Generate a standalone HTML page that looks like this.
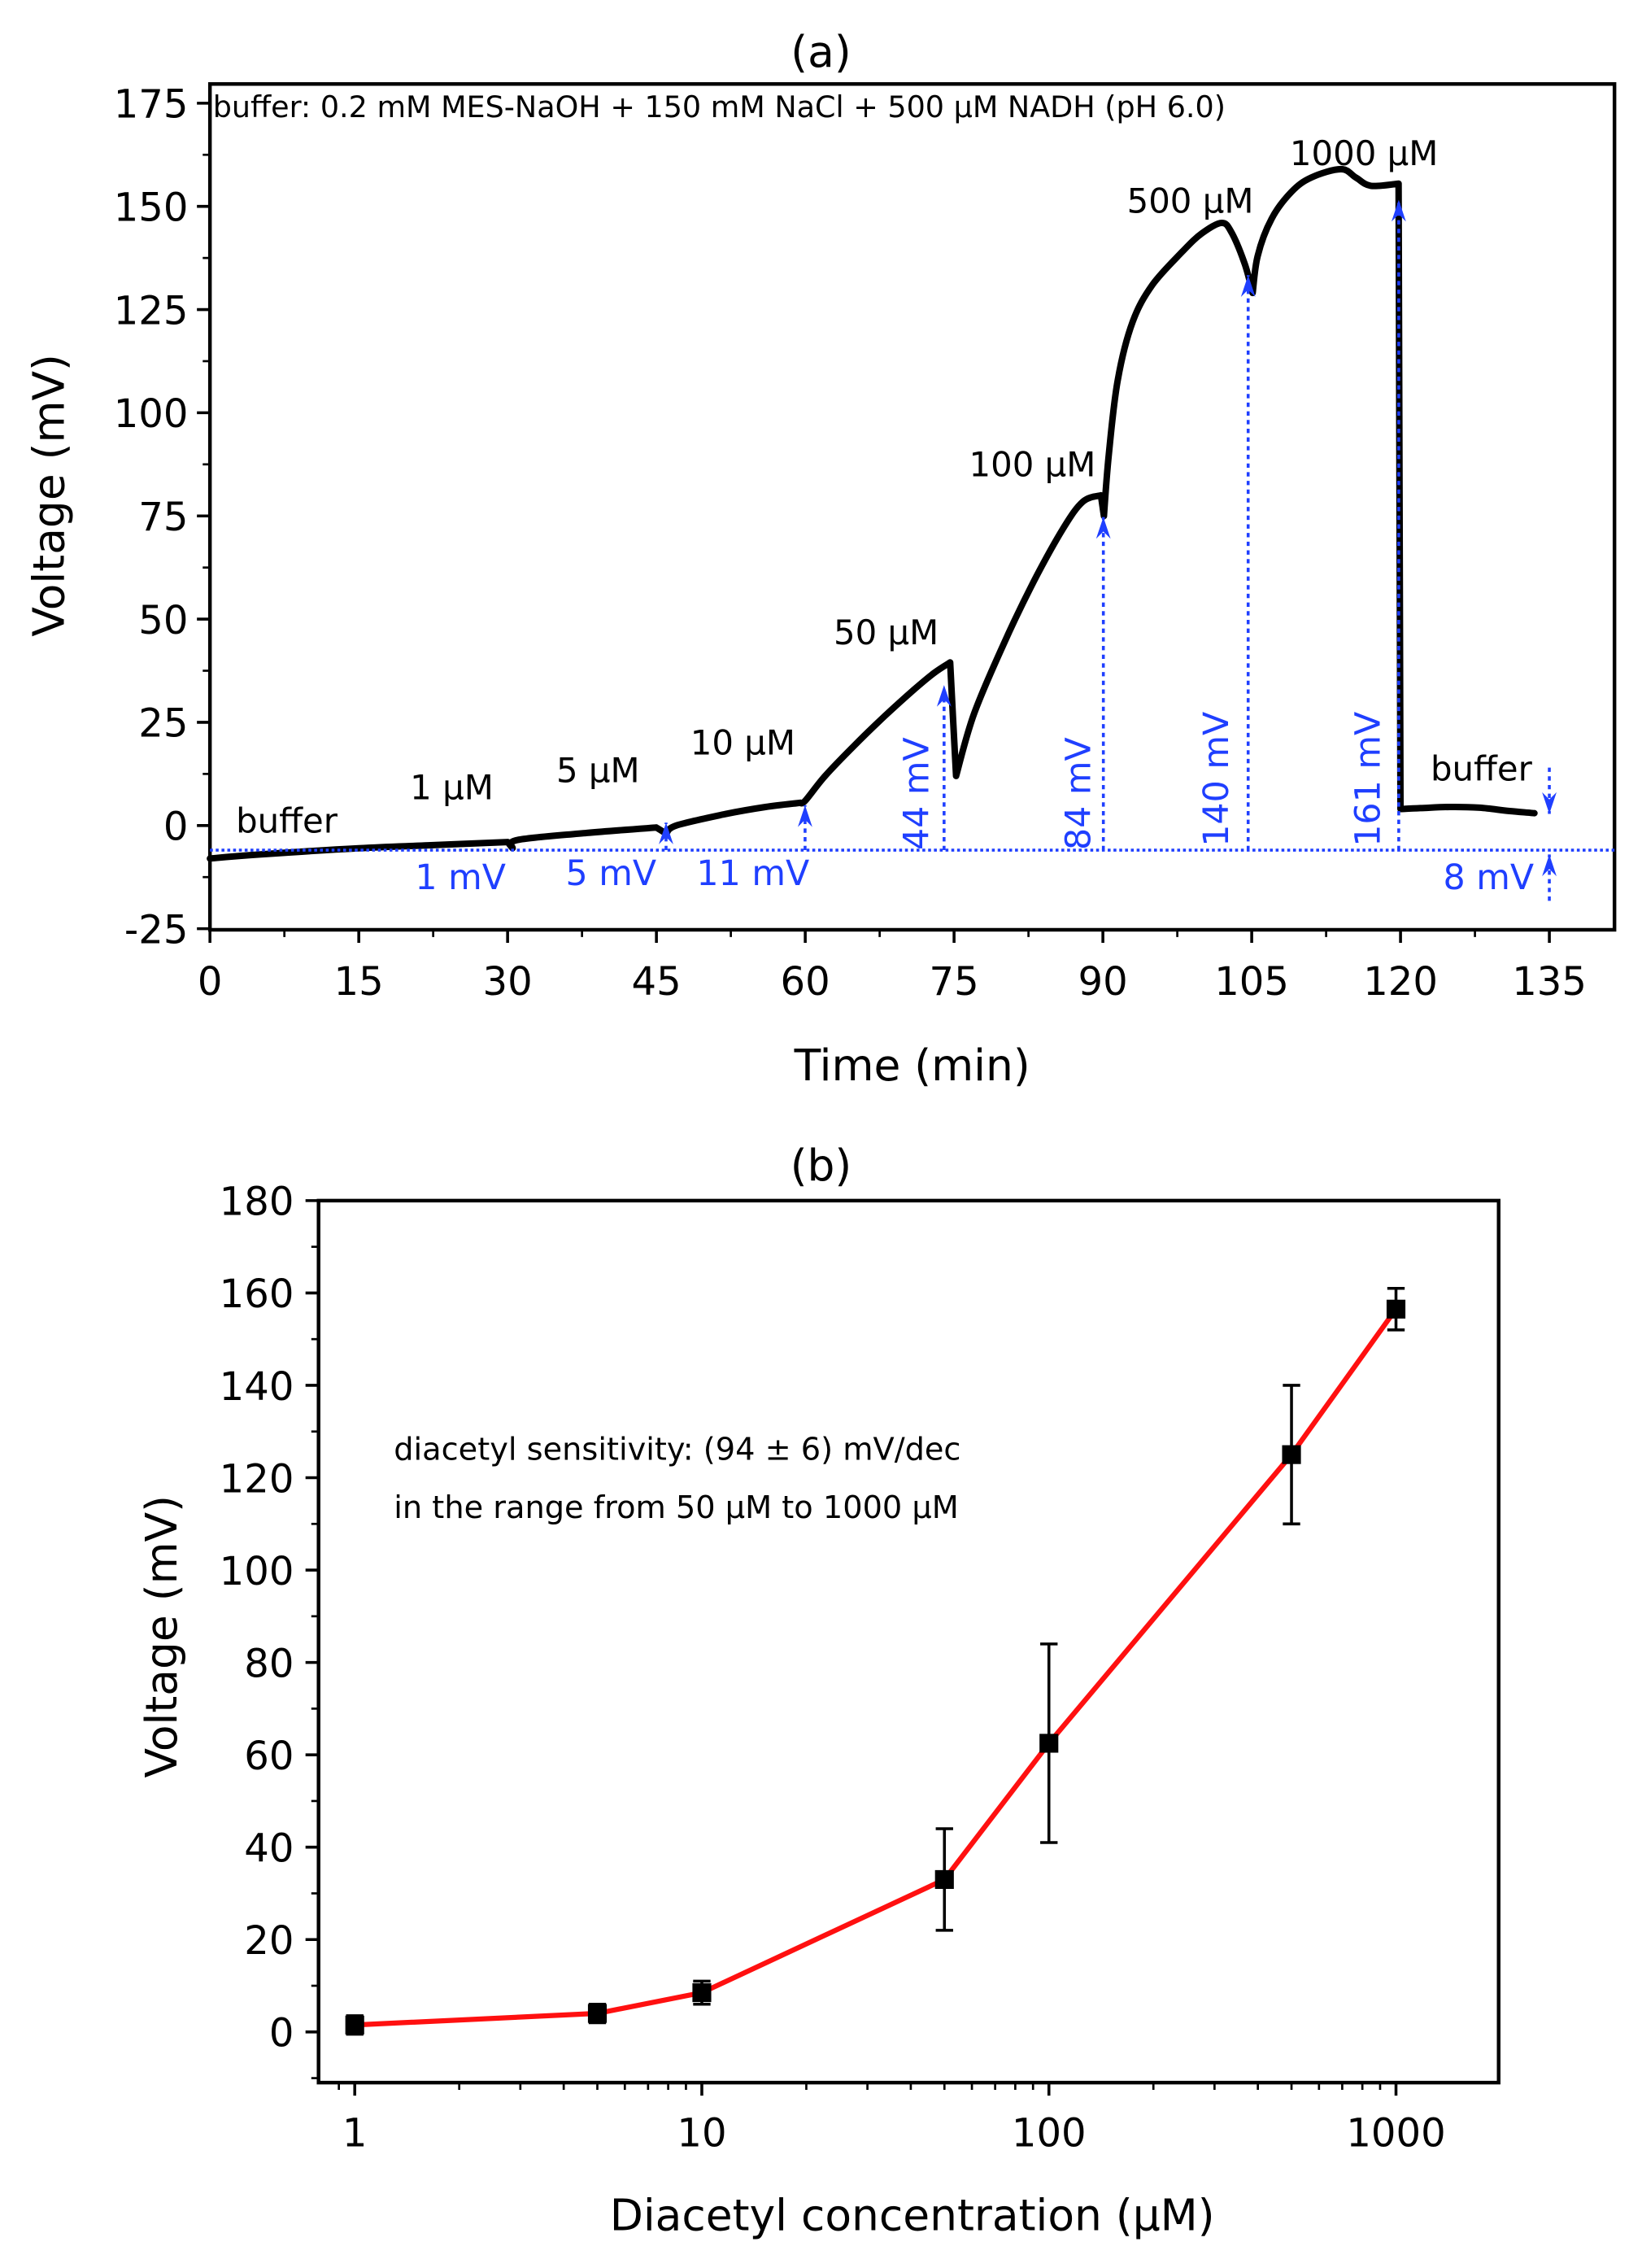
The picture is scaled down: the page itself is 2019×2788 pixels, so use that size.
<!DOCTYPE html>
<html><head><meta charset="utf-8"><style>
html,body{margin:0;padding:0;background:#fff;}
svg{display:block;}
text{font-family:"DejaVu Sans","Liberation Sans",sans-serif;}
</style></head><body>
<svg id="s" xmlns="http://www.w3.org/2000/svg" width="2019" height="2788" viewBox="0 0 1134 1566" preserveAspectRatio="none">
<rect width="1134" height="1566" fill="#fff"/>
<g id="g"></g>
</svg>
<script>
var g=document.getElementById('g');var out='';
function X(t){return 145+6.852*t;}function Y(v){return 570-2.85*v;}
out+='<text x="567" y="46" font-size="30" text-anchor="middle">(a)</text>';
out+='<rect x="145" y="58" width="970" height="584" fill="none" stroke="#000" stroke-width="2.5"/>';
for(var v=-25;v<=175;v+=25){var y=Y(v);out+='<line x1="136" y1="'+y+'" x2="145" y2="'+y+'" stroke="#000" stroke-width="2"/>';out+='<text x="130" y="'+(y+10)+'" font-size="27" text-anchor="end">'+v+'</text>';}
for(var v=-12.5;v<=175;v+=25){var y=Y(v);out+='<line x1="140" y1="'+y+'" x2="145" y2="'+y+'" stroke="#000" stroke-width="1.5"/>';}
for(var t=0;t<=135;t+=15){var x=X(t);out+='<line x1="'+x+'" y1="642" x2="'+x+'" y2="651" stroke="#000" stroke-width="2"/>';out+='<text x="'+x+'" y="687" font-size="27" text-anchor="middle">'+t+'</text>';}
for(var t=7.5;t<=140;t+=15){var x=X(t);out+='<line x1="'+x+'" y1="642" x2="'+x+'" y2="647" stroke="#000" stroke-width="1.5"/>';}
out+='<text x="630" y="746" font-size="30" text-anchor="middle">Time (min)</text>';
out+='<text transform="translate(44,342) rotate(-90)" font-size="30" text-anchor="middle">Voltage (mV)</text>';
out+='<text x="147" y="81" font-size="20.5">buffer: 0.2 mM MES-NaOH + 150 mM NaCl + 500 μM NADH (pH 6.0)</text>';
// smooth segments (catmull-rom), separated by jumps
var segs=[
[[0,-8],[5,-7],[15,-5.5],[22,-4.8],[30,-4]],
[[30,-4],[30.5,-5.5]],
[[30.5,-5.5],[31,-3.5],[38,-1.8],[45,-0.5]],
[[45,-0.5],[46,-2]],
[[46,-2],[47,0],[52,2.8],[56,4.5],[59.5,5.5]],
[[59.5,5.5],[60,6],[62,12],[65,19.5],[68,26.5],[71,33],[73,37],[74.6,39.5]],
[[74.6,39.5],[75.2,12]],
[[75.2,12],[77,27],[80,44],[83,59],[86,72],[88,78.5],[89.8,80]],
[[89.8,80],[90.1,75]],
[[90.1,75],[90.6,90],[91.5,108],[93,122],[95,131],[98,139],[100,143.5],[102,146],[103,143.5],[104.3,136],[105.1,129]],
[[105.1,129],[105.6,138],[107,147],[109,153.5],[111,157],[114,159],[115.5,157],[117,155],[119.8,155.5]],
[[119.8,155.5],[120,4]],
[[120,4],[122,4.2],[125,4.5],[128,4.3],[131,3.5],[133.5,3]]];
function cr(pts){var P=pts.map(function(q){return [X(q[0]),Y(q[1])];});var s='M'+P[0][0].toFixed(1)+','+P[0][1].toFixed(1);for(var i=0;i<P.length-1;i++){var p0=P[i-1]||P[i],p1=P[i],p2=P[i+1],p3=P[i+2]||P[i+1];var c1=[p1[0]+(p2[0]-p0[0])/6,p1[1]+(p2[1]-p0[1])/6],c2=[p2[0]-(p3[0]-p1[0])/6,p2[1]-(p3[1]-p1[1])/6];s+='C'+c1[0].toFixed(1)+','+c1[1].toFixed(1)+' '+c2[0].toFixed(1)+','+c2[1].toFixed(1)+' '+p2[0].toFixed(1)+','+p2[1].toFixed(1);}return s;}
var p='';segs.forEach(function(s){p+=cr(s);});
out+='<path d="'+p+'" fill="none" stroke="#000" stroke-width="4.5" stroke-linejoin="round" stroke-linecap="round"/>';
var b='#1f3fff';
out+='<line x1="145" y1="587" x2="1115" y2="587" stroke="'+b+'" stroke-width="2" stroke-dasharray="2,2"/>';
function arr(x,y1,y2){out+='<line x1="'+x+'" y1="'+y1+'" x2="'+x+'" y2="'+y2+'" stroke="'+b+'" stroke-width="2" stroke-dasharray="3,3"/>';var dir=y2<y1?1:-1;out+='<path d="M'+x+','+y2+' L'+(x-5)+','+(y2+15*dir)+' L'+x+','+(y2+10*dir)+' L'+(x+5)+','+(y2+15*dir)+'Z" fill="'+b+'"/>';}
arr(460,587,568);arr(556,587,556);arr(652,587,473);arr(762,587,357);arr(862,587,190);arr(966,587,138);arr(1070,530,562);arr(1070,622,590);
function bt(x,y,s){out+='<text x="'+x+'" y="'+y+'" font-size="24" fill="'+b+'" text-anchor="middle">'+s+'</text>';}
bt(318,614,'1 mV');bt(422,611,'5 mV');bt(520,611,'11 mV');bt(1028,614,'8 mV');
function bv(x,y,s){out+='<text transform="translate('+x+','+y+') rotate(-90)" font-size="24" fill="'+b+'" text-anchor="middle">'+s+'</text>';}
bv(641,548,'44 mV');bv(753,548,'84 mV');bv(848,538,'140 mV');bv(953,538,'161 mV');
function kt(x,y,s){out+='<text x="'+x+'" y="'+y+'" font-size="23.5" text-anchor="middle">'+s+'</text>';}
kt(198,575,'buffer');kt(312,552,'1 μM');kt(413,540,'5 μM');kt(513,521,'10 μM');kt(612,445,'50 μM');kt(713,329,'100 μM');kt(822,147,'500 μM');kt(942,114,'1000 μM');kt(1023,539,'buffer');
function LX(c){return 245+239.7*Math.log10(c);}function LY(v){return 1403-3.189*v;}
out+='<text x="567" y="815" font-size="30" text-anchor="middle">(b)</text>';
out+='<rect x="220" y="829" width="815" height="609" fill="none" stroke="#000" stroke-width="2.5"/>';
for(var v=0;v<=180;v+=20){var y=LY(v);out+='<line x1="211" y1="'+y+'" x2="220" y2="'+y+'" stroke="#000" stroke-width="2"/>';out+='<text x="203" y="'+(y+10)+'" font-size="27" text-anchor="end">'+v+'</text>';}
for(var v=-10;v<=170;v+=20){var y=LY(v);out+='<line x1="215" y1="'+y+'" x2="220" y2="'+y+'" stroke="#000" stroke-width="1.5"/>';}
[1,10,100,1000].forEach(function(c){var x=LX(c);out+='<line x1="'+x+'" y1="1438" x2="'+x+'" y2="1447" stroke="#000" stroke-width="2"/>';out+='<text x="'+x+'" y="1482" font-size="27" text-anchor="middle">'+c+'</text>';});
[0.9,2,3,4,5,6,7,8,9,20,30,40,50,60,70,80,90,200,300,400,500,600,700,800,900,2000].forEach(function(c){var x=LX(c);if(x>=220&&x<=1035)out+='<line x1="'+x+'" y1="1438" x2="'+x+'" y2="1443" stroke="#000" stroke-width="1.5"/>';});
out+='<text x="630" y="1540" font-size="30" text-anchor="middle">Diacetyl concentration (μM)</text>';
out+='<text transform="translate(122,1130) rotate(-90)" font-size="30" text-anchor="middle">Voltage (mV)</text>';
out+='<text x="272" y="1008" font-size="21.5">diacetyl sensitivity: (94 ± 6) mV/dec</text>';
out+='<text x="272" y="1048" font-size="21.5">in the range from 50 μM to 1000 μM</text>';
var P=[[1,1.5,2],[5,4,2],[10,8.5,2.5],[50,33,11],[100,62.5,21.5],[500,125,15],[1000,156.5,4.5]];
var lp='';P.forEach(function(q,i){lp+=(i?'L':'M')+LX(q[0]).toFixed(1)+','+LY(q[1]).toFixed(1);});
out+='<path d="'+lp+'" fill="none" stroke="#ff1010" stroke-width="3.5"/>';
P.forEach(function(q){var x=LX(q[0]);var y1=LY(q[1]+q[2]),y2=LY(q[1]-q[2]);out+='<line x1="'+x+'" y1="'+y1+'" x2="'+x+'" y2="'+y2+'" stroke="#000" stroke-width="2"/><line x1="'+(x-6)+'" y1="'+y1+'" x2="'+(x+6)+'" y2="'+y1+'" stroke="#000" stroke-width="2"/><line x1="'+(x-6)+'" y1="'+y2+'" x2="'+(x+6)+'" y2="'+y2+'" stroke="#000" stroke-width="2"/>';out+='<rect x="'+(x-6.5)+'" y="'+(LY(q[1])-6.5)+'" width="13" height="13" fill="#000"/>';});
g.innerHTML=out;
</script>
</body></html>
